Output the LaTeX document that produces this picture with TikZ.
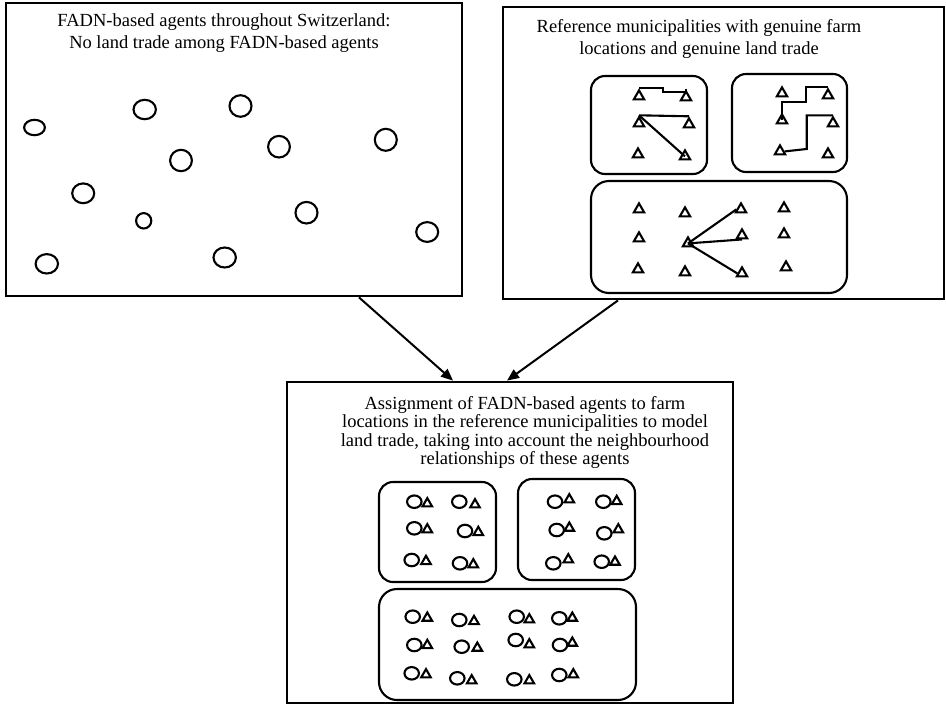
\documentclass[tikz,border=0pt]{standalone}
\usepackage{fontspec}
\setmainfont{Liberation Serif}
\usetikzlibrary{shapes.geometric,arrows.meta}
\newcommand\ag[5]{\node[agent,minimum width=#4pt,minimum height=#5pt] (#1) at (#2,#3) {};}
\newcommand\trg[3]{\node[tri] (#1) at (#2,#3+1.4) {};}
\newcommand\pr[5]{\node[agent,minimum width=14.5pt,minimum height=12.5pt] (#1c) at (#2,#3) {};\node[stri] (#1t) at (#4,#5+1.3) {};}
\begin{document}
\begin{tikzpicture}[x=1pt,y=-1pt,
  outerbox/.style={draw,rectangle,line width=2.8pt,inner sep=0pt},
  subbox/.style={draw,rectangle,line width=2.1pt,rounded corners=14pt,inner sep=0pt},
  agent/.style={draw,ellipse,line width=2.1pt,inner sep=0pt},
  tri/.style={draw,regular polygon,regular polygon sides=3,minimum size=12pt,inner sep=0pt,line width=2.1pt},
  stri/.style={tri,minimum size=11pt},
  link/.style={line width=2.1pt},
  flow/.style={line width=2pt,-{Triangle[length=12pt,width=10pt]}},
  boxtext/.style={align=center,inner sep=0pt,anchor=north,font=\fontsize{18.5}{22}\selectfont}]
\useasboundingbox (0,0) rectangle (946,705);

% outer boxes
\node[outerbox,minimum width=456pt,minimum height=293pt] (tl) at (234,149.5) {};
\node[outerbox,minimum width=441pt,minimum height=292pt] (tr) at (723.5,153) {};
\node[outerbox,minimum width=446pt,minimum height=321pt] (bt) at (510,542.5) {};

% texts
\node[boxtext] (tltext) at (224,13.9) {FADN-based agents throughout Switzerland:\\No land trade among FADN-based agents};
\node[boxtext] (trtext) at (699,19.7) {Reference municipalities with genuine farm\\locations and genuine land trade};
\node[boxtext,font=\fontsize{18.5}{18.3}\selectfont] (bttext) at (525,396.4) {Assignment of FADN-based agents to farm\\locations in the reference municipalities to model\\land trade, taking into account the neighbourhood\\relationships of these agents};

% agents throughout Switzerland
\ag{g1}{34.5}{127.5}{20.8}{15.4}
\ag{g2}{144.7}{109.5}{22.4}{19.4}
\ag{g3}{240.5}{106}{22}{21.6}
\ag{g4}{181}{160.5}{21.8}{21.4}
\ag{g5}{279}{146.7}{21.8}{21.6}
\ag{g6}{385.8}{139.8}{22}{22}
\ag{g7}{83.2}{193.3}{22}{19.8}
\ag{g8}{143.7}{220.8}{15.2}{15.4}
\ag{g9}{306.5}{212.7}{22}{21.6}
\ag{g10}{427.2}{232}{22}{19.8}
\ag{g11}{46.8}{263.8}{22.4}{19.4}
\ag{g12}{224.7}{257.5}{22.4}{20}

% reference municipalities
\node[subbox,minimum width=116pt,minimum height=98pt] (ma) at (649,125) {};
\node[subbox,minimum width=115pt,minimum height=98pt] (mb) at (789.5,123) {};
\node[subbox,rounded corners=18pt,minimum width=256pt,minimum height=112pt] (mc) at (719,237) {};

\trg{a1}{639}{95}\trg{a2}{686}{96}
\trg{a3}{639}{122}\trg{a4}{689}{123}
\trg{a5}{638}{153}\trg{a6}{685}{155}
\draw[link] (a1.north) -- ++(23.7,0) -- ++(0,4) -| (a2.north);
\draw[link] (a3.north) -- (a4.north);
\draw[link] (a3.north) -- (a6.center);

\trg{b1}{782}{92}\trg{b2}{828}{94}
\trg{b3}{782}{119}\trg{b4}{833}{122}
\trg{b5}{780}{150}\trg{b6}{828}{153}
\draw[link] (b2.north) -| (805.7,101.7) -| (b3.center);
\draw[link] (b4.north) -| (806.7,149) -- (b5.east);

\trg{c1}{639}{208}\trg{c2}{685}{212}\trg{c3}{741}{208}\trg{c4}{784}{207}
\trg{c5}{639}{237}\trg{c6}{688}{242}\trg{c7}{742}{234}\trg{c8}{784}{233}
\trg{c9}{638}{268}\trg{c10}{685}{271}\trg{c11}{742}{272}\trg{c12}{786}{266}
\draw[link] (c6.center) -- (c3.west);
\draw[link] (c6.center) -- (c7.south);
\draw[link] (c6.center) -- (c11.west);

% assignment
\node[subbox,minimum width=117pt,minimum height=100pt] (md) at (437.5,532) {};
\node[subbox,minimum width=117pt,minimum height=101pt] (me) at (576.5,529.5) {};
\node[subbox,rounded corners=18pt,minimum width=257pt,minimum height=111pt] (mf) at (507.5,644.5) {};

\pr{d1}{414.3}{501.7}{427.3}{502.3}
\pr{d2}{459.3}{501.7}{475}{503.3}
\pr{d3}{414.3}{528.3}{427.3}{528.3}
\pr{d4}{465}{531}{478.3}{531}
\pr{d5}{411.7}{560}{426}{560}
\pr{d6}{460}{563.3}{473.3}{563.3}

\pr{e1}{555}{501.7}{569.3}{498.3}
\pr{e2}{603.3}{501.7}{616.7}{500}
\pr{e3}{556.7}{530}{569.3}{526.7}
\pr{e4}{604.3}{533.3}{618.3}{528.3}
\pr{e5}{553.3}{563.3}{568.3}{558.3}
\pr{e6}{601.7}{561.7}{615}{560.7}

\pr{f1}{412.7}{616.7}{427.3}{616.7}
\pr{f2}{459.3}{620}{474}{620}
\pr{f3}{516.7}{616.7}{529.3}{618.3}
\pr{f4}{559.3}{618.3}{572.3}{616.7}
\pr{f5}{414.3}{645}{427.3}{644}
\pr{f6}{461.7}{646.7}{477.3}{646.7}
\pr{f7}{515.7}{640}{529.3}{643.3}
\pr{f8}{560}{645}{572.3}{641.7}
\pr{f9}{411.7}{673.3}{426}{673.3}
\pr{f10}{457.3}{678.3}{471.7}{679.3}
\pr{f11}{514.3}{679.3}{529.3}{679.3}
\pr{f12}{559.3}{675}{573.3}{673.3}

% flows
\draw[flow] ([xshift=125pt]tl.south) -- ([xshift=-57pt]bt.north);
\draw[flow] ([xshift=-105.5pt]tr.south) -- ([xshift=-3pt]bt.north);
\end{tikzpicture}
\end{document}
